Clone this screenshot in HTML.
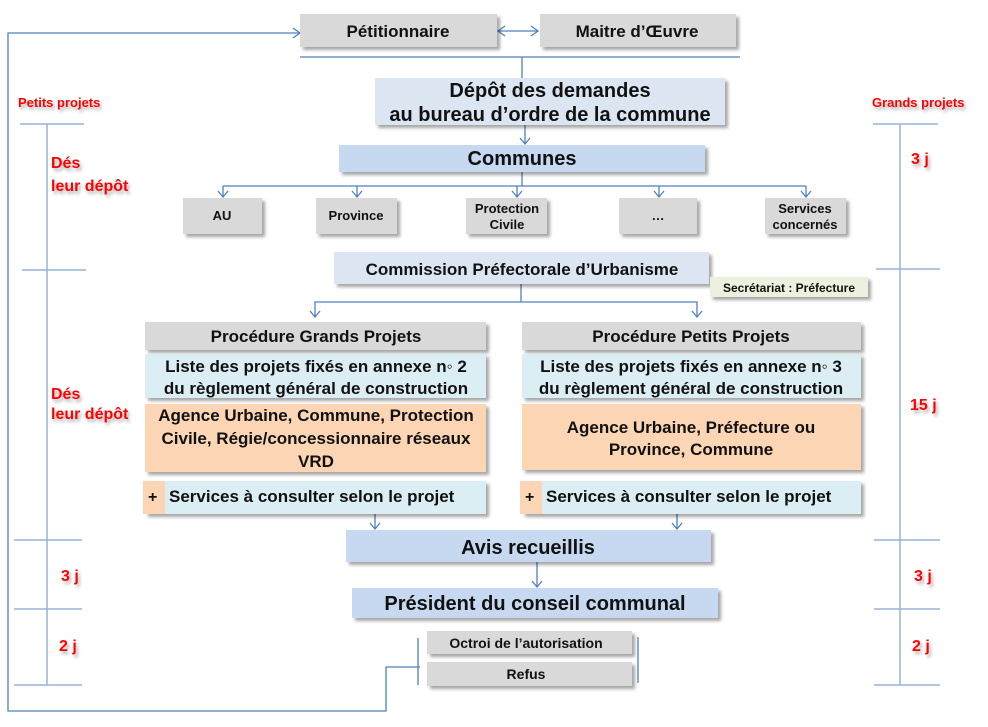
<!DOCTYPE html>
<html><head><meta charset="utf-8"><style>
html,body{margin:0;padding:0;background:#fff;}
svg{display:block;}
text{font-family:"Liberation Sans Narrow","Liberation Sans",sans-serif;font-weight:bold;fill:#111;}
.r{fill:#f00;font-family:"Liberation Sans",sans-serif;}
</style></head><body>
<svg width="988" height="727" viewBox="0 0 988 727" xmlns="http://www.w3.org/2000/svg">
<defs>
<filter id="sh" x="-5%" y="-10%" width="115%" height="140%"><feDropShadow dx="3" dy="3" stdDeviation="1.5" flood-color="#000" flood-opacity="0.35"/></filter>
<filter id="ts" x="-10%" y="-20%" width="130%" height="160%"><feDropShadow dx="2" dy="3" stdDeviation="1.5" flood-color="#000" flood-opacity="0.3"/></filter>
</defs>
<g stroke="#4f81bd" stroke-width="1.3" fill="none">
<!-- left loop -->
<polyline points="300,33 8,33 8,711 386,711 386,667 420,667"/>
<polyline points="293,28 300,33 293,38"/>
<!-- double arrow -->
<line x1="498" y1="31" x2="538" y2="31"/>
<polyline points="505,26 498,31 505,36"/><polyline points="531,26 538,31 531,36"/>
<line x1="300" y1="57" x2="740" y2="57"/>
<line x1="522" y1="57" x2="522" y2="78"/>
<line x1="525" y1="125" x2="525" y2="144"/><polyline points="520,138 525,144 530,138"/>
<line x1="522" y1="172" x2="522" y2="186"/>
<line x1="223" y1="186" x2="806" y2="186"/>
<line x1="223" y1="186" x2="223" y2="197"/><polyline points="218,191 223,197 228,191"/>
<line x1="357" y1="186" x2="357" y2="197"/><polyline points="352,191 357,197 362,191"/>
<line x1="517" y1="186" x2="517" y2="197"/><polyline points="512,191 517,197 522,191"/>
<line x1="659" y1="186" x2="659" y2="197"/><polyline points="654,191 659,197 664,191"/>
<line x1="806" y1="186" x2="806" y2="197"/><polyline points="801,191 806,197 811,191"/>
<line x1="521" y1="284" x2="521" y2="302"/>
<polyline points="315,317 315,302 697,302 697,317"/>
<polyline points="310,311 315,317 320,311"/><polyline points="692,311 697,317 702,311"/>
<line x1="375" y1="514" x2="375" y2="529"/><polyline points="370,523 375,529 380,523"/>
<line x1="677" y1="514" x2="677" y2="529"/><polyline points="672,523 677,529 682,523"/>
<line x1="537" y1="562" x2="537" y2="587"/><polyline points="532,581 537,587 542,581"/>
<line x1="418" y1="638" x2="418" y2="685"/>
<line x1="638" y1="637" x2="638" y2="683"/>
</g>
<!-- timelines -->
<g stroke="#95b3d7" stroke-width="1.5">
<line x1="47" y1="124" x2="47" y2="685"/>
<line x1="20" y1="124" x2="84" y2="124"/><line x1="22" y1="270" x2="86" y2="270"/>
<line x1="14" y1="540" x2="82" y2="540"/><line x1="14" y1="609" x2="82" y2="609"/><line x1="14" y1="685" x2="82" y2="685"/>
<line x1="900" y1="124" x2="900" y2="685"/>
<line x1="873" y1="124" x2="938" y2="124"/><line x1="876" y1="269" x2="940" y2="269"/>
<line x1="874" y1="540" x2="940" y2="540"/><line x1="874" y1="609" x2="940" y2="609"/><line x1="874" y1="685" x2="940" y2="685"/>
</g>
<!-- boxes -->
<g filter="url(#sh)">
<rect x="300" y="14" width="197" height="33" fill="#d9d9d9"/>
<rect x="540" y="14" width="196" height="33" fill="#d9d9d9"/>
<rect x="375" y="78" width="350" height="47" fill="#dce6f2"/>
<rect x="339" y="145" width="366" height="27" fill="#c6d9f0"/>
<rect x="183" y="198" width="79" height="36" fill="#d9d9d9"/>
<rect x="316" y="198" width="81" height="36" fill="#d9d9d9"/>
<rect x="466" y="198" width="81" height="36" fill="#d9d9d9"/>
<rect x="619" y="198" width="78" height="36" fill="#d9d9d9"/>
<rect x="765" y="198" width="81" height="36" fill="#d9d9d9"/>
<rect x="334" y="252" width="375" height="32" fill="#dce6f2"/>
<rect x="710" y="277" width="158" height="20" fill="#ebf1de"/>
<rect x="145" y="322" width="341" height="28" fill="#d9d9d9"/>
<rect x="145" y="354" width="341" height="44" fill="#dbeef4"/>
<rect x="145" y="404" width="341" height="68" fill="#fcd5b5"/>
<rect x="145" y="481" width="341" height="33" fill="#dbeef4"/>
<rect x="522" y="322" width="339" height="28" fill="#d9d9d9"/>
<rect x="522" y="354" width="339" height="44" fill="#dbeef4"/>
<rect x="522" y="404" width="339" height="66" fill="#fcd5b5"/>
<rect x="522" y="481" width="339" height="33" fill="#dbeef4"/>
<rect x="346" y="530" width="365" height="32" fill="#c6d9f0"/>
<rect x="352" y="588" width="366" height="30" fill="#c6d9f0"/>
<rect x="427" y="631" width="205" height="23" fill="#d9d9d9"/>
<rect x="427" y="662" width="205" height="24" fill="#d9d9d9"/>
</g>
<rect x="143" y="481" width="22" height="33" fill="#fcd5b5"/>
<rect x="520" y="481" width="22" height="33" fill="#fcd5b5"/>
<!-- text -->
<g text-anchor="middle">
<text x="398" y="37" font-size="17" style="font-family:'Liberation Sans',sans-serif">Pétitionnaire</text>
<text x="637" y="37" font-size="17" style="font-family:'Liberation Sans',sans-serif">Maitre d’Œuvre</text>
<text x="550" y="97" font-size="20">Dépôt des demandes</text>
<text x="550" y="121" font-size="20">au bureau d’ordre de la commune</text>
<text x="522" y="165" font-size="20">Communes</text>
<g font-size="13" style="font-family:'Liberation Sans',sans-serif">
<text x="222" y="220" style="font-family:'Liberation Sans',sans-serif">AU</text>
<text x="356" y="220" style="font-family:'Liberation Sans',sans-serif">Province</text>
<text x="507" y="213" style="font-family:'Liberation Sans',sans-serif">Protection</text>
<text x="507" y="229" style="font-family:'Liberation Sans',sans-serif">Civile</text>
<text x="658" y="220" style="font-family:'Liberation Sans',sans-serif">…</text>
<text x="805" y="213" style="font-family:'Liberation Sans',sans-serif">Services</text>
<text x="805" y="229" style="font-family:'Liberation Sans',sans-serif">concernés</text>
</g>
<text x="522" y="275" font-size="17">Commission Préfectorale d’Urbanisme</text>
<text x="789" y="292" font-size="12">Secrétariat :  Préfecture</text>
<text x="316" y="342" font-size="17">Procédure Grands Projets</text>
<text x="316" y="372" font-size="17">Liste des projets fixés en annexe n◦ 2</text>
<text x="316" y="394" font-size="17">du règlement général de construction</text>
<text x="316" y="421" font-size="17">Agence Urbaine, Commune, Protection</text>
<text x="316" y="444" font-size="17">Civile, Régie/concessionnaire réseaux</text>
<text x="316" y="467" font-size="17">VRD</text>
<text x="691" y="342" font-size="17">Procédure Petits Projets</text>
<text x="691" y="372" font-size="17">Liste des projets fixés en annexe n◦ 3</text>
<text x="691" y="394" font-size="17">du règlement général de construction</text>
<text x="691" y="433" font-size="17">Agence Urbaine, Préfecture ou</text>
<text x="691" y="455" font-size="17">Province, Commune</text>
<text x="528" y="554" font-size="20">Avis recueillis</text>
<text x="535" y="610" font-size="20">Président du conseil communal</text>
<text x="526" y="648" font-size="14">Octroi de l’autorisation</text>
<text x="526" y="679" font-size="14">Refus</text>
</g>
<text x="148" y="502" font-size="16">+</text>
<text x="169" y="502" font-size="17">Services à consulter selon le projet</text>
<text x="525" y="502" font-size="16">+</text>
<text x="546" y="502" font-size="17">Services à consulter selon le projet</text>
<!-- red labels -->
<g filter="url(#ts)">
<text class="r" x="18" y="107" font-size="13">Petits projets</text>
<text class="r" x="872" y="107" font-size="13">Grands  projets</text>
<text class="r" x="51" y="168" font-size="16">Dés</text>
<text class="r" x="51" y="191" font-size="16">leur dépôt</text>
<text class="r" x="51" y="399" font-size="16">Dés</text>
<text class="r" x="51" y="419" font-size="16">leur dépôt</text>
<text class="r" x="61" y="581" font-size="16">3 j</text>
<text class="r" x="59" y="651" font-size="16">2 j</text>
<text class="r" x="911" y="164" font-size="16">3 j</text>
<text class="r" x="910" y="410" font-size="16">15 j</text>
<text class="r" x="914" y="581" font-size="16">3 j</text>
<text class="r" x="912" y="651" font-size="16">2 j</text>
</g>
</svg>
</body></html>
